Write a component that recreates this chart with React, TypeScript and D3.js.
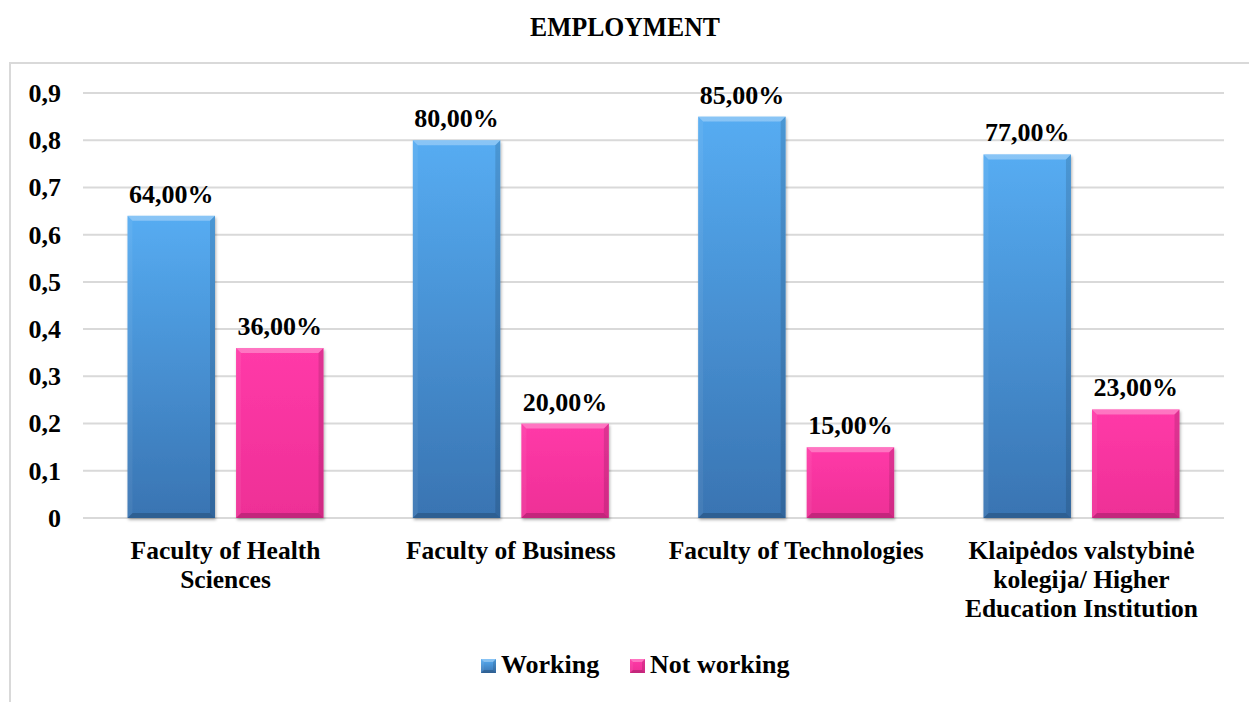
import React from "react";
import * as d3 from "d3";

const categories: string[][] = [
  ["Faculty of Health", "Sciences"],
  ["Faculty of Business"],
  ["Faculty of Technologies"],
  ["Klaipėdos valstybinė", "kolegija/ Higher", "Education Institution"],
];
const seriesNames = ["Working", "Not working"];
const working = [0.64, 0.8, 0.85, 0.77];
const notWorking = [0.36, 0.2, 0.15, 0.23];
const yTicks = [0, 0.1, 0.2, 0.3, 0.4, 0.5, 0.6, 0.7, 0.8, 0.9];
const title = "EMPLOYMENT";

const W = 1249;
const H = 702;
const FONT = '"Liberation Serif", "DejaVu Serif", serif';

const seriesStyle = [
  { id: "gBlue", top: "#56acf2", bottom: "#3974b2" },
  { id: "gPink", top: "#ff3aa8", bottom: "#ee2f96" },
];

function Bevel({ x, y, w, h, b, grad }: { x: number; y: number; w: number; h: number; b: number; grad: string }) {
  const bb = Math.min(b, h / 2, w / 2);
  const pts = (a: number[][]) => a.map((p) => p.join(",")).join(" ");
  return (
    <g>
      <rect x={x} y={y} width={w} height={h} fill={`url(#${grad})`} />
      <polygon points={pts([[x, y], [x + w, y], [x + w - bb, y + bb], [x + bb, y + bb]])} fill="#ffffff" opacity={0.3} />
      <polygon points={pts([[x, y], [x + bb, y + bb], [x + bb, y + h - bb], [x, y + h]])} fill="#ffffff" opacity={0.06} />
      <polygon points={pts([[x + w, y], [x + w, y + h], [x + w - bb, y + h - bb], [x + w - bb, y + bb]])} fill="#000000" opacity={0.12} />
      <polygon points={pts([[x, y + h], [x + w, y + h], [x + w - bb, y + h - bb], [x + bb, y + h - bb]])} fill="#000000" opacity={0.18} />
    </g>
  );
}

export default function App() {
  const x0 = 83;
  const x1 = 1224;
  const y = d3.scaleLinear().domain([0, 0.9]).range([518, 93]);
  const xBand = d3
    .scaleBand<number>()
    .domain(d3.range(categories.length))
    .range([x0, x1])
    .paddingInner(0.313)
    .paddingOuter(0.156);
  const xSub = d3
    .scaleBand<number>()
    .domain([0, 1])
    .range([0, xBand.bandwidth()])
    .paddingInner(0.194)
    .paddingOuter(0);
  const fmt = (v: number) => (v * 100).toFixed(2).replace(".", ",") + "%";
  const tickFmt = (v: number) => (v === 0 ? "0" : d3.format(".1f")(v).replace(".", ","));
  const data = [working, notWorking];

  return (
    <svg
      width={W}
      height={H}
      style={{ position: "absolute", left: 0, top: 0, background: "#fff", fontFamily: FONT, fontWeight: 700 }}
    >
      <defs>
        {seriesStyle.map((s) => (
          <linearGradient key={s.id} id={s.id} x1="0" y1="0" x2="0" y2="1">
            <stop offset="0" stopColor={s.top} />
            <stop offset="1" stopColor={s.bottom} />
          </linearGradient>
        ))}
        <filter id="shadow" x="-10%" y="-10%" width="120%" height="120%">
          <feDropShadow dx="1" dy="2" stdDeviation="1.5" floodColor="#000" floodOpacity="0.3" />
        </filter>
      </defs>
      <rect x={0} y={0} width={W} height={H} fill="#fff" />
      <path d={`M10,${H} V63 H${W}`} fill="none" stroke="#d9d9d9" strokeWidth={2} />
      <text x={625} y={36} textAnchor="middle" fontSize={28} textLength={190} lengthAdjust="spacingAndGlyphs">
        {title}
      </text>
      {yTicks.map((t) => (
        <g key={t}>
          <line x1={x0} x2={x1} y1={y(t)} y2={y(t)} stroke="#d9d9d9" strokeWidth={2} />
          <text x={61} y={y(t)} dy="0.34em" textAnchor="end" fontSize={26}>
            {tickFmt(t)}
          </text>
        </g>
      ))}
      {categories.map((c, i) => (
        <g key={i} transform={`translate(${xBand(i)},0)`}>
          {data.map((series, s) => {
            const v = series[i];
            const bx = xSub(s)!;
            const by = y(v);
            const bh = y(0) - by;
            return (
              <g key={s}>
                <g filter="url(#shadow)">
                  <Bevel x={bx} y={by} w={xSub.bandwidth()} h={bh} b={5} grad={seriesStyle[s].id} />
                </g>
                <text x={bx + xSub.bandwidth() / 2} y={by - 13} textAnchor="middle" fontSize={26}>
                  {fmt(v)}
                </text>
              </g>
            );
          })}
          {c.map((line, li) => (
            <text key={li} x={xBand.bandwidth() / 2} y={559 + li * 29} textAnchor="middle" fontSize={25.5}>
              {line}
            </text>
          ))}
        </g>
      ))}
      <g>
        {seriesNames.map((n, s) => {
          const lx = s === 0 ? 481 : 630;
          return (
            <g key={n}>
              <Bevel x={lx} y={659} w={15} h={14} b={3} grad={seriesStyle[s].id} />
              <text x={lx + 20} y={673} fontSize={26}>
                {n}
              </text>
            </g>
          );
        })}
      </g>
    </svg>
  );
}
